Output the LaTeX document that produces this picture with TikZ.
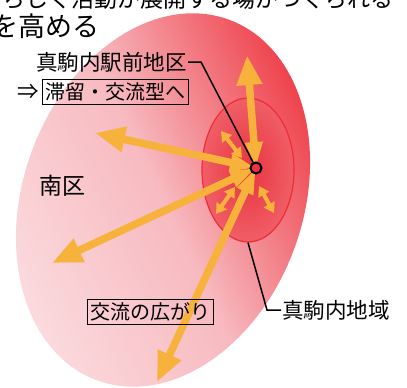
\documentclass[tikz,border=0pt]{standalone}
\usepackage{fontspec}
\setmainfont{Noto Sans CJK JP}
\usetikzlibrary{arrows.meta,shapes.geometric,positioning}

\definecolor{pinkLight}{HTML}{FBDCDF}
\definecolor{pinkMid}{HTML}{F7BAC0}
\definecolor{redDeep}{HTML}{EE3A44}
\definecolor{coreRed}{HTML}{E8343E}
\definecolor{coreEdge}{HTML}{F05E67}
\definecolor{rimRed}{HTML}{EE2D35}
\definecolor{flowOrange}{HTML}{F6B23A}

\tikzset{
  bigflow/.style={flowOrange, line width=7.5pt,
    {Triangle[width=16pt,length=26pt]}-{Triangle[width=24pt,length=30pt]}},
  smallflow/.style={flowOrange, line width=4pt,
    {Triangle[width=12pt,length=10pt]}-{Triangle[width=12pt,length=10pt]}},
  lbl/.style={font=\fontsize{21.5}{23}\selectfont, inner sep=1pt},
  boxlbl/.style={font=\fontsize{20}{22}\selectfont, draw=black, line width=0.8pt, inner sep=3pt},
  leader/.style={black, line width=1.5pt}
}

\begin{document}
\begin{tikzpicture}[x=1pt,y=-1pt]
                    \useasboundingbox (0,0) rectangle (407,388);
                    \clip (0,0) rectangle (407,388);

                    % area of the south ward
                    \shade[left color=pinkLight, right color=redDeep, middle color=pinkMid,
                           shading angle=115, rotate around={-20:(163,200)}]
                        (163,200) ellipse [x radius=140, y radius=192];

                    % core area
                    \node[ellipse, minimum width=92pt, minimum height=144pt, draw=rimRed,
                          line width=1.2pt, inner color=coreRed, outer color=coreEdge] (chiiki) at (248,170) {};

                    \coordinate (hub) at (256,168);
                    \coordinate (upTip) at (247,55);
                    \coordinate (westTip) at (95,133);
                    \coordinate (swTip) at (52,263);
                    \coordinate (southTip) at (157,382);

                    \draw[bigflow] (hub) -- (upTip);
                    \draw[bigflow] (hub) -- (westTip);
                    \draw[bigflow] (hub) -- (swTip);
                    \draw[bigflow] (hub) -- (southTip);

                    \draw[smallflow] (221,131) -- (242,158);
                    \draw[smallflow] (216,214) -- (235,187);
                    \draw[smallflow] (259,186) -- (274,213);

                    \node[circle, draw=black, line width=2pt, fill=coreRed, inner sep=0pt,
                          minimum size=11pt] (st) at (hub) {};

                    % labels
                    \node[anchor=base east, font=\fontsize{23}{25}\selectfont, inner sep=0pt] (top1) at (394,8)
                        {らしく活動が展開する場がつくられる};
                    \node[anchor=base west, font=\fontsize{27}{29}\selectfont, inner sep=0pt] (top2) at (-9,36)
                        {を高める};

                    \node[lbl, anchor=east] (ekimae) at (188,62) {真駒内駅前地区};
                    \node[boxlbl] (tairyu) at (115,92) {滞留・交流型へ};
                    \node[lbl, left=1pt of tairyu] (yaji) {⇒};
                    \node[lbl, font=\fontsize{23}{25}\selectfont] (minami) at (62,186) {南区};
                    \node[boxlbl] (koryu) at (150,312) {交流の広がり};
                    \node[lbl, anchor=west] (chiikiLbl) at (281,310) {真駒内地域};

                    \coordinate (kinkA) at (201,62);
                    \coordinate (kinkB) at (267,310);
                    \draw[leader] (ekimae.east) -- (kinkA) -- (st);
                    \draw[leader] (chiiki.south) -- (kinkB) -- (chiikiLbl.west);
\end{tikzpicture}
\end{document}
